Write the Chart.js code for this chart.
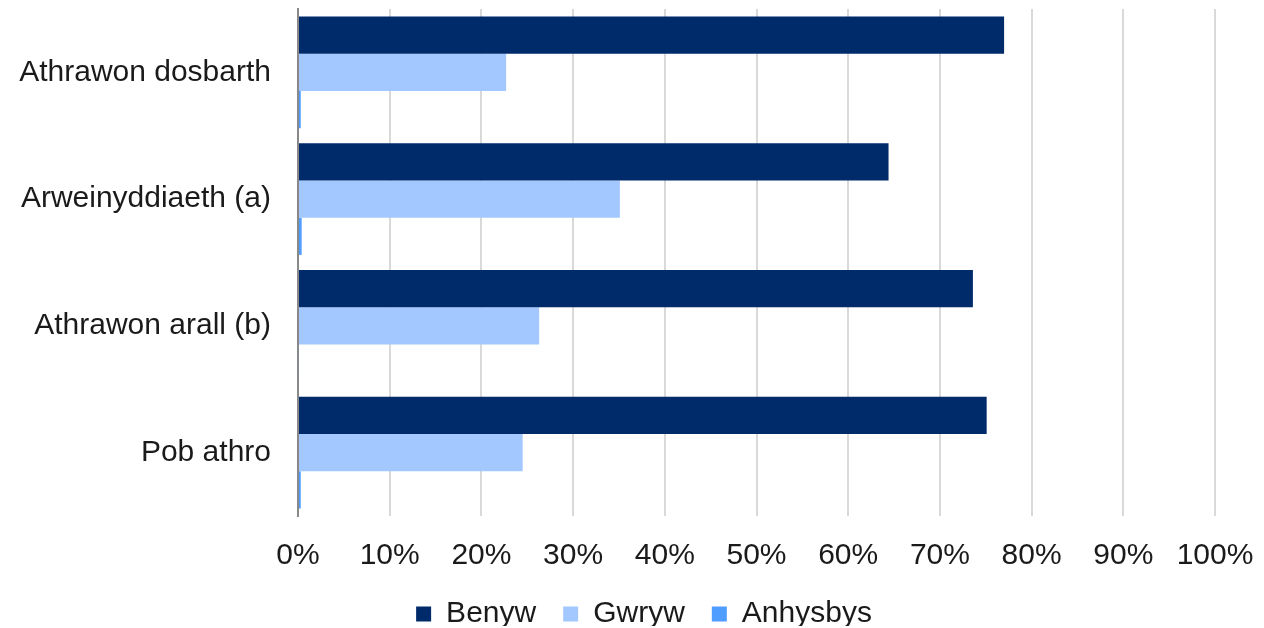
<!DOCTYPE html>
<html>
<head>
<meta charset="utf-8">
<script src="https://cdn.jsdelivr.net/npm/chart.js@4.4.0/dist/chart.umd.min.js"></script>
<style>
  html, body { margin: 0; padding: 0; background: #fff; }
  #wrap { width: 1264px; height: 628px; }
</style>
</head>
<body>
<div id="wrap"><canvas id="myChart" width="1264" height="628"></canvas></div>
<script>
// categories and series (percent of teachers)
const categories = ['Athrawon dosbarth', 'Arweinyddiaeth (a)', 'Athrawon arall (b)', 'Pob athro'];
const benyw = [77.0, 64.4, 73.6, 75.1];
const gwryw = [22.7, 35.1, 26.3, 24.5];
const anhysbys = [0.3, 0.4, 0.1, 0.3];
const xTicks = [0, 10, 20, 30, 40, 50, 60, 70, 80, 90, 100];

Chart.defaults.font.family = '"Liberation Sans", Arial, sans-serif';
Chart.defaults.color = '#1a1a1a';

// pull the legend a bit lower / tighter and nudge it right
const legendShift = {
    id: 'legendShift',
    beforeInit(chart) {
        const origFit = chart.legend.fit;
        chart.legend.fit = function() {
            origFit.bind(chart.legend)();
            this.height -= 13;
        };
    },
    afterLayout(chart) {
        chart.legend.left += 14;
    }
};

var ctx = document.getElementById('myChart').getContext('2d');
var myChart = new Chart(ctx, {
    type: 'bar',
    data: {
        labels: categories,
        datasets: [{
            label: 'Benyw',
            data: benyw,
            backgroundColor: '#002b6a'
        }, {
            label: 'Gwryw',
            data: gwryw,
            backgroundColor: '#a3c8ff'
        }, {
            label: 'Anhysbys',
            data: anhysbys,
            backgroundColor: '#4f9dff'
        }]
    },
    options: {
        indexAxis: 'y',
        responsive: false,
        animation: false,
        categoryPercentage: 0.88,
        barPercentage: 1.0,
        layout: {
            padding: { top: 9, right: 0, bottom: 2, left: 10 }
        },
        scales: {
            x: {
                min: 0,
                max: 100,
                afterBuildTicks: function(axis) {
                    axis.ticks = xTicks.map(v => ({ value: v }));
                },
                afterFit: function(scale) {
                    scale.height -= 24;
                    scale.paddingLeft = 0;
                    scale.paddingRight = 49;
                },
                grid: {
                    color: '#d9d9d9',
                    lineWidth: 2,
                    drawTicks: false
                },
                border: { display: false },
                ticks: {
                    padding: 22,
                    font: { size: 30 },
                    callback: v => v + '%'
                }
            },
            y: {
                grid: { display: false, drawTicks: false },
                border: { display: true, color: '#898989', width: 2 },
                afterFit: function(scale) {
                    scale.paddingTop = 0;
                    scale.paddingBottom = 0;
                    scale.width = 288;
                },
                ticks: {
                    padding: 27,
                    font: { size: 30 }
                }
            }
        },
        plugins: {
            legend: {
                position: 'bottom',
                labels: {
                    boxWidth: 15,
                    boxHeight: 15,
                    padding: 27,
                    font: { size: 30 }
                }
            },
            tooltip: { enabled: false }
        }
    },
    plugins: [legendShift]
});
</script>
</body>
</html>
